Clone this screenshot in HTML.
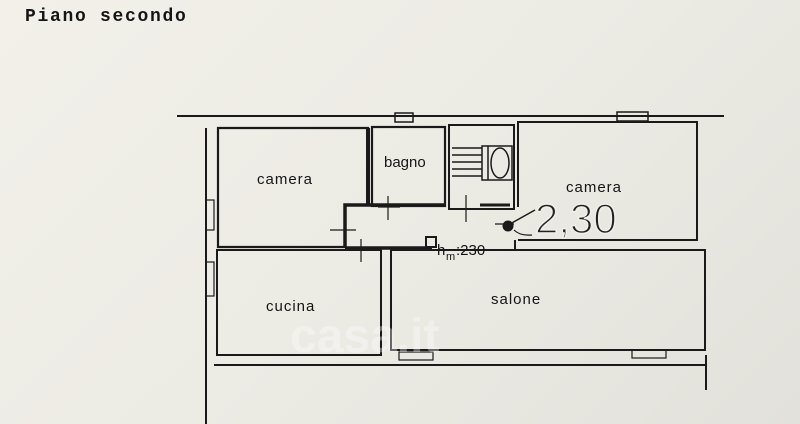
<!DOCTYPE html>
<html><head><meta charset="utf-8">
<style>
html,body{margin:0;padding:0;}
body{width:800px;height:424px;overflow:hidden;background:linear-gradient(135deg,#f2f0e9 0%,#ecebe4 50%,#e2e1db 100%);position:relative;font-family:"Liberation Sans",sans-serif;}
.t{position:absolute;color:#151515;}
</style></head><body>
<div class="t" style="left:25px;top:7px;font-family:'Liberation Mono',monospace;font-weight:bold;font-size:18px;letter-spacing:1.7px;">Piano secondo</div>
<svg width="800" height="424" style="position:absolute;left:0;top:0" xmlns="http://www.w3.org/2000/svg">
<g stroke="#1a1a1a" fill="none">
<line x1="177" y1="116" x2="724" y2="116" stroke-width="2"/>
<rect x="395" y="113" width="18" height="9" stroke-width="1.5"/>
<rect x="617" y="112" width="31" height="9" stroke-width="1.5"/>
<line x1="206" y1="128" x2="206" y2="424" stroke-width="2"/>
<rect x="206" y="200" width="8" height="30" stroke-width="1.2"/>
<rect x="206" y="262" width="8" height="34" stroke-width="1.2"/>
<!-- camera left -->
<polyline points="368,205 368,128 218,128 218,247 345,247" stroke-width="2.2"/>
<line x1="368" y1="128" x2="368" y2="205" stroke-width="4"/>
<!-- bagno -->
<rect x="372" y="127" width="73" height="79" stroke-width="2.2"/>
<!-- stairs -->
<rect x="449" y="125" width="65" height="84" stroke-width="2"/>
<g stroke-width="1.5">
<line x1="452" y1="148" x2="482" y2="148"/><line x1="452" y1="155" x2="482" y2="155"/>
<line x1="452" y1="162" x2="482" y2="162"/><line x1="452" y1="169" x2="482" y2="169"/>
<line x1="452" y1="176" x2="482" y2="176"/>
<rect x="482" y="146" width="30" height="34"/>
<line x1="488" y1="146" x2="488" y2="180"/>
<ellipse cx="500" cy="163" rx="9" ry="15"/>
</g>
<polyline points="518,207 518,122 697,122 697,240 518,240" stroke-width="2"/>
<line x1="515" y1="240" x2="515" y2="250" stroke-width="2"/>
<!-- corridor -->
<polyline points="345,248 345,205 445,205" stroke-width="3.5"/>
<line x1="480" y1="205" x2="510" y2="205" stroke-width="3"/>
<line x1="345" y1="248" x2="432" y2="248" stroke-width="3.5"/>
<rect x="426" y="237" width="10" height="10" stroke-width="2"/>
<g stroke-width="1.2">
<line x1="388" y1="196" x2="388" y2="220"/><line x1="378" y1="207" x2="400" y2="207"/>
<line x1="466" y1="195" x2="466" y2="222"/>
<line x1="330" y1="230" x2="356" y2="230"/>
<line x1="361" y1="239" x2="361" y2="262"/>
<line x1="495" y1="224" x2="514" y2="224"/>
</g>
<rect x="217" y="250" width="164" height="105" stroke-width="2"/>
<rect x="391" y="250" width="314" height="100" stroke-width="2"/>
<line x1="214" y1="365" x2="705" y2="365" stroke-width="2"/>
<rect x="399" y="352" width="34" height="8" stroke-width="1.2"/>
<rect x="632" y="350" width="34" height="8" stroke-width="1.2"/>
<line x1="706" y1="355" x2="706" y2="390" stroke-width="2"/>
<circle cx="508" cy="226" r="5" fill="#1a1a1a"/>
<path d="M510 224 L535 210" stroke-width="1.5"/>
<path d="M514 230 Q520 236 532 235" stroke-width="1.2"/>
</g>
<text x="257" y="184" font-family="Liberation Sans, sans-serif" font-size="15" fill="#151515" letter-spacing="1">camera</text>
<text x="384" y="167" font-family="Liberation Sans, sans-serif" font-size="15" fill="#151515">bagno</text>
<text x="566" y="192" font-family="Liberation Sans, sans-serif" font-size="15" fill="#151515" letter-spacing="1">camera</text>
<text x="266" y="311" font-family="Liberation Sans, sans-serif" font-size="15" fill="#151515" letter-spacing="1">cucina</text>
<text x="491" y="304" font-family="Liberation Sans, sans-serif" font-size="15" fill="#151515" letter-spacing="1">salone</text>
<text x="437" y="255" font-family="Liberation Sans, sans-serif" font-size="15" fill="#151515">h</text>
<text x="446" y="260" font-family="Liberation Sans, sans-serif" font-size="11" fill="#151515">m</text>
<text x="456" y="255" font-family="Liberation Sans, sans-serif" font-size="15" fill="#151515">:230</text>
<text x="535" y="233" font-family="Liberation Sans, sans-serif" font-size="42" fill="#222" transform="translate(535 233) scale(1 1) translate(-535 -233)" style="font-weight:normal" stroke="#f0efe9" stroke-width="1.6" paint-order="normal">2,30</text>
<text x="290" y="352" font-family="Liberation Sans, sans-serif" font-size="48" font-weight="bold" fill="#ffffff" fill-opacity="0.35">casa.it</text>
</svg>
</body></html>
